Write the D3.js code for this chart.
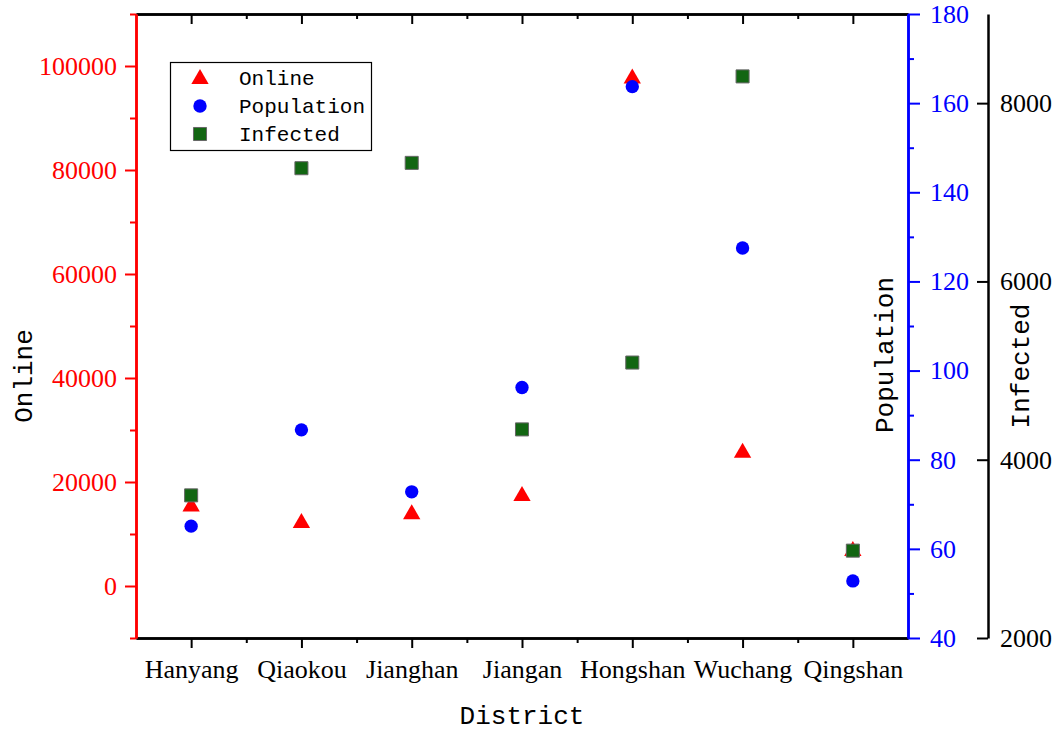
<!DOCTYPE html>
<html>
<head>
<meta charset="utf-8">
<script src="https://cdn.jsdelivr.net/npm/d3@7"></script>
<style>
  body { margin: 0; background: #fff; }
  .ttl { font-family: "Liberation Mono", monospace; font-size: 26px; }
</style>
</head>
<body>
<div id="chart"></div>
<script>
const districts = ['Hanyang', 'Qiaokou', 'Jianghan', 'Jiangan', 'Hongshan', 'Wuchang', 'Qingshan']
const online = [15500, 12300, 14000, 17500, 97800, 25800, 6900]
const population = [65.1, 86.7, 72.8, 96.2, 163.7, 127.5, 52.8]
const infected = [3600, 7270, 7330, 4340, 5090, 8300, 2980]

const onlineTicks = [0, 20000, 40000, 60000, 80000, 100000]
const popTicks = [40, 60, 80, 100, 120, 140, 160, 180]
const infTicks = [2000, 4000, 6000, 8000]

const W = 1061, H = 732
const pLeft = 136, pRight = 908, pTop = 14, pBottom = 638
const thirdX = 988

const svg = d3.select('#chart').append('svg')
  .attr('width', W).attr('height', H)

const x = d3.scaleLinear().domain([0.5, districts.length + 0.5]).range([pLeft, pRight])
const yOn = d3.scaleLinear().domain([-10000, 110000]).range([pBottom, pTop])
const yPop = d3.scaleLinear().domain([40, 180]).range([pBottom, pTop])
const yInf = d3.scaleLinear().domain([2000, 9000]).range([pBottom, pTop])

const idx = districts.map((d, i) => i + 1)
const minorX = idx.slice(0, -1).map(i => i + 0.5)

function style (g, color, w) {
  g.selectAll('path').attr('stroke', color).attr('stroke-width', w)
  g.selectAll('line').attr('stroke', color).attr('stroke-width', 2)
  g.selectAll('text').attr('fill', color)
    .attr('font-family', '"Liberation Serif", serif').attr('font-size', 26)
}

// bottom axis
const gb = svg.append('g').attr('transform', `translate(0,${pBottom})`)
gb.call(d3.axisBottom(x).tickValues(idx).tickFormat(i => districts[i - 1]).tickSize(10).tickSizeOuter(0).tickPadding(12))
gb.append('g').call(d3.axisBottom(x).tickValues(minorX).tickFormat('').tickSize(5).tickSizeOuter(0))
style(gb, '#000', 2.5)

// top axis (ticks inward)
const gt = svg.append('g').attr('transform', `translate(0,${pTop})`)
gt.call(d3.axisBottom(x).tickValues(idx).tickFormat('').tickSize(10).tickSizeOuter(0))
gt.append('g').call(d3.axisBottom(x).tickValues(minorX).tickFormat('').tickSize(5).tickSizeOuter(0))
style(gt, '#000', 2.5)

// left axis - Online
const gl = svg.append('g').attr('transform', `translate(${pLeft},0)`)
gl.call(d3.axisLeft(yOn).tickValues(onlineTicks).tickFormat(d3.format('d')).tickSize(11).tickSizeOuter(0).tickPadding(8))
gl.append('g').call(d3.axisLeft(yOn).tickValues(d3.range(-10000, 110001, 20000)).tickFormat('').tickSize(6).tickSizeOuter(0))
style(gl, '#ff0000', 2.5)

// right axis - Population
const gr = svg.append('g').attr('transform', `translate(${pRight},0)`)
gr.call(d3.axisRight(yPop).tickValues(popTicks).tickSize(12).tickSizeOuter(0).tickPadding(10))
gr.append('g').call(d3.axisRight(yPop).tickValues(d3.range(50, 180, 20)).tickFormat('').tickSize(6).tickSizeOuter(0))
style(gr, '#0000ff', 2.5)

// third axis - Infected
const gi = svg.append('g').attr('transform', `translate(${thirdX},0)`)
gi.call(d3.axisRight(yInf).tickValues(infTicks).tickFormat(d3.format('d')).tickSize(0).tickSizeOuter(0).tickPadding(12))
gi.selectAll('.tick').append('line').attr('x1', -11).attr('x2', 0)
style(gi, '#000', 2.5)

// axis titles
svg.append('text').attr('class', 'ttl').attr('x', (pLeft + pRight) / 2).attr('y', 724)
  .attr('text-anchor', 'middle').text('District')
svg.append('text').attr('class', 'ttl').attr('transform', 'translate(32,376) rotate(-90)')
  .attr('text-anchor', 'middle').text('Online')
svg.append('text').attr('class', 'ttl').attr('transform', 'translate(893,355) rotate(-90)')
  .attr('text-anchor', 'middle').text('Population')
svg.append('text').attr('class', 'ttl').attr('transform', 'translate(1029,366) rotate(-90)')
  .attr('text-anchor', 'middle').text('Infected')

// markers
const tri = d3.symbol().type(d3.symbolTriangle).size(130)
const dot = d3.symbol().type(d3.symbolCircle).size(140)
const sq = d3.symbol().type(d3.symbolSquare).size(170)
const green = '#126612'

svg.append('g').selectAll('path').data(online).join('path')
  .attr('d', tri)
  .attr('transform', (d, i) => `translate(${x(i + 1)},${yOn(d) + 1})`)
  .attr('fill', '#ff0000')

svg.append('g').selectAll('path').data(population).join('path')
  .attr('d', dot)
  .attr('transform', (d, i) => `translate(${x(i + 1)},${yPop(d)})`)
  .attr('fill', '#0000ff')

svg.append('g').selectAll('path').data(infected).join('path')
  .attr('d', sq)
  .attr('transform', (d, i) => `translate(${x(i + 1)},${yInf(d)})`)
  .attr('fill', green).attr('stroke', '#666').attr('stroke-width', 1)

// legend
const lg = svg.append('g')
lg.append('rect').attr('x', 170.5).attr('y', 62.5).attr('width', 201).attr('height', 88)
  .attr('fill', '#fff').attr('stroke', '#000').attr('stroke-width', 1.2)
const items = [
  { label: 'Online', sym: tri, fill: '#ff0000' },
  { label: 'Population', sym: dot, fill: '#0000ff' },
  { label: 'Infected', sym: sq, fill: green }
]
items.forEach((it, i) => {
  const yy = 78 + i * 28
  lg.append('path').attr('d', it.sym).attr('transform', `translate(200,${yy + (i === 0 ? 1 : 0)})`)
    .attr('fill', it.fill).attr('stroke', i === 2 ? '#666' : 'none').attr('stroke-width', 1)
  lg.append('text').attr('x', 239).attr('y', yy + 7)
    .style('font-family', '"Liberation Mono", monospace').style('font-size', '21px')
    .text(it.label)
})
</script>
</body>
</html>
